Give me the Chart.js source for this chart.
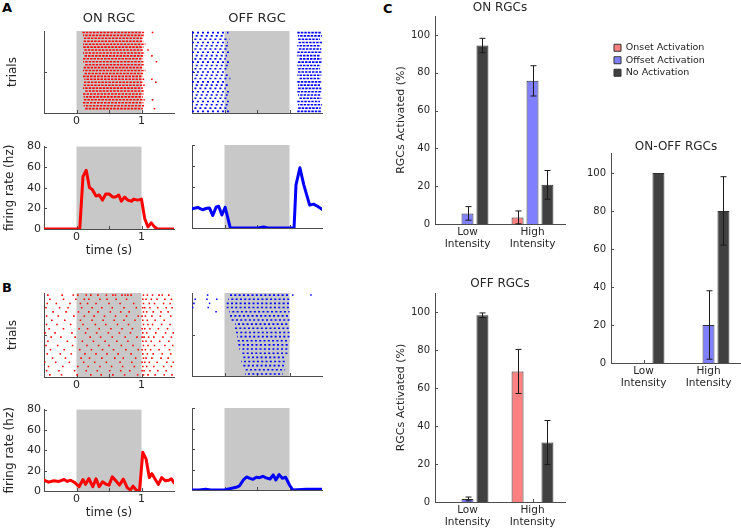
<!DOCTYPE html>
<html>
<head>
<meta charset="utf-8">
<script src="https://cdn.jsdelivr.net/npm/chart.js@4.4.1/dist/chart.umd.min.js"></script>
<style>
  body { margin: 0; width: 741px; height: 531px; position: relative; overflow: hidden; background: #fff; font-family: 'DejaVu Sans', sans-serif; }
  canvas { position: absolute; }
  .panel { position: absolute; font-weight: bold; font-size: 13px; color: #000; }
</style>
</head>
<body>
<div class="panel" style="left:2px;top:0px">A</div>
<div class="panel" style="left:2px;top:280px">B</div>
<div class="panel" style="left:383px;top:1px">C</div>

<canvas id="aOnRaster"></canvas>
<canvas id="aOffRaster"></canvas>
<canvas id="aOnRate"></canvas>
<canvas id="aOffRate"></canvas>
<canvas id="bOnRaster"></canvas>
<canvas id="bOffRaster"></canvas>
<canvas id="bOnRate"></canvas>
<canvas id="bOffRate"></canvas>
<canvas id="onBars"></canvas>
<canvas id="offBars"></canvas>
<canvas id="onoffBars"></canvas>

<script>
// ---- data ----
const timeTicks = [0, 0.5, 1];
const stimOn = 0, stimOff = 1;

// A, ON RGC raster: each trial fires densely from start to end
const aOnStart = [0.09, 0.1, 0.1, 0.11, 0.1, 0.09, 0.12, 0.1, 0.11, 0.1, 0.1, 0.12, 0.11, 0.1, 0.11, 0.1, 0.12, 0.1, 0.11, 0.1, 0.12, 0.1, 0.11, 0.1, 0.1, 0.11, 0.12];
const aOnEnd = [1.04, 1.05, 1.02, 1.03, 1.06, 1.03, 1.02, 1.05, 1.04, 1.02, 1.03, 1.04, 1.02, 1.06, 1.03, 1.02, 1.04, 1.03, 1.05, 1.02, 1.04, 1.03, 1.02, 1.05, 1.03, 1.04, 1.02];
const aOnExtraT = [1.17, 1.1, 1.16, 1.23, 1.16, 1.22, 1.17, 1.2];
const aOnExtraRow = [1, 7, 9, 11, 17, 18, 24, 27];

// A, OFF RGC raster: firing before the flash and after it ends
const aOffPreEnd = [0.06, 0.02, 0.08, 0.05, 0.09, 0.03, 0.07, 0.04, 0.02, 0.08, 0.06, 0.05, 0.03, 0.07, 0.09, 0.04, 0.06, 0.02, 0.08, 0.05, 0.03, 0.07, 0.06, 0.04, 0.08];
const aOffPostStart = [1.12, 1.13, 1.12, 1.14, 1.12, 1.13, 1.12, 1.12, 1.14, 1.13, 1.12, 1.12, 1.13, 1.12, 1.14, 1.12, 1.13, 1.12, 1.12, 1.13, 1.14, 1.12, 1.13, 1.12, 1.12];
const aOffPostEnd = [1.49, 1.5, 1.47, 1.5, 1.48, 1.49, 1.5, 1.47, 1.49, 1.5, 1.48, 1.47, 1.5, 1.49, 1.48, 1.5, 1.47, 1.49, 1.5, 1.48, 1.49, 1.47, 1.5, 1.48, 1.49];

// A, firing rates
const aOnT = [-0.5, 0.05, 0.1, 0.15, 0.2, 0.24, 0.3, 0.35, 0.4, 0.45, 0.5, 0.56, 0.6, 0.65, 0.69, 0.74, 0.79, 0.85, 0.88, 0.94, 1.0, 1.05, 1.1, 1.15, 1.2, 1.25, 1.5];
const aOnR = [0, 0, 51, 57, 40, 38.6, 32, 33, 28, 34, 34, 31, 31, 33, 27, 31, 28, 27, 29, 28, 29, 10, 2, 6, 2, 0, 0];
const aOffT = [-0.5, -0.41, -0.34, -0.27, -0.23, -0.18, -0.13, -0.09, -0.04, 0.01, 0.09, 0.52, 0.6, 0.67, 1.07, 1.1, 1.16, 1.22, 1.31, 1.37, 1.43, 1.5];
const aOffR = [18.6, 19.8, 17.6, 19, 19.2, 12, 20, 21, 12.5, 20, 0, 0, 1, 0, 0, 41.6, 58, 41.6, 22, 23, 21, 18];

// B, ON RGC raster: spike times per trial
const bOnSpikes = [
  [-0.44, -0.22, -0.05, 0.02, 0.15, 0.22, 0.33, 0.46, 0.56, 0.6, 0.7, 0.75, 0.79, 0.84, 1.03, 1.09, 1.17, 1.27, 1.32, 1.42],
  [-0.41, -0.2, -0.01, 0.12, 0.19, 0.36, 0.47, 0.61, 0.77, 1.02, 1.07, 1.15, 1.24, 1.36, 1.46],
  [-0.45, -0.31, -0.1, 0.06, 0.17, 0.3, 0.5, 0.67, 0.88, 1.03, 1.12, 1.2, 1.34, 1.44],
  [-0.47, -0.26, -0.13, 0.08, 0.24, 0.39, 0.55, 0.73, 0.92, 1.02, 1.05, 1.13, 1.25, 1.38, 1.47],
  [-0.36, -0.16, 0.03, 0.19, 0.33, 0.52, 0.68, 0.81, 1.03, 1.08, 1.18, 1.3, 1.41],
  [-0.46, -0.28, -0.04, 0.12, 0.27, 0.43, 0.6, 0.77, 0.95, 1.01, 1.06, 1.16, 1.29, 1.45],
  [-0.38, -0.18, 0.06, 0.24, 0.41, 0.58, 0.73, 0.9, 1.02, 1.09, 1.21, 1.35],
  [-0.46, -0.3, -0.09, 0.1, 0.29, 0.45, 0.63, 0.8, 1.03, 1.1, 1.17, 1.31, 1.44],
  [-0.42, -0.2, 0.04, 0.17, 0.35, 0.53, 0.7, 0.86, 1.01, 1.05, 1.13, 1.26, 1.4],
  [-0.48, -0.33, -0.07, 0.14, 0.31, 0.49, 0.66, 0.83, 1.02, 1.08, 1.22, 1.37, 1.49],
  [-0.39, -0.24, -0.02, 0.21, 0.37, 0.55, 0.75, 0.93, 1.01, 1.04, 1.11, 1.19, 1.33, 1.46],
  [-0.44, -0.14, 0.09, 0.26, 0.44, 0.62, 0.79, 1.02, 1.07, 1.15, 1.28, 1.42],
  [-0.47, -0.29, -0.06, 0.16, 0.34, 0.5, 0.69, 0.87, 1.03, 1.1, 1.2, 1.36, 1.48],
  [-0.4, -0.19, 0.05, 0.23, 0.4, 0.57, 0.76, 0.95, 1.01, 1.06, 1.14, 1.27, 1.43],
  [-0.45, -0.25, -0.08, 0.13, 0.3, 0.47, 0.64, 0.84, 1.02, 1.09, 1.18, 1.32, 1.45],
  [-0.37, -0.17, 0.07, 0.2, 0.39, 0.59, 0.72, 0.91, 1.03, 1.07, 1.16, 1.3, 1.41],
  [-0.49, -0.32, -0.11, 0.11, 0.28, 0.46, 0.67, 0.85, 1.01, 1.05, 1.12, 1.24, 1.39, 1.49],
  [-0.43, -0.21, 0.02, 0.18, 0.36, 0.54, 0.71, 0.89, 1.02, 1.08, 1.19, 1.34, 1.46],
  [-0.46, -0.27, -0.03, 0.15, 0.32, 0.51, 0.68, 0.82, 1.01, 1.04, 1.13, 1.25, 1.38],
  [-0.41, -0.23, 0.01, 0.22, 0.38, 0.56, 0.74, 0.94, 1.03, 1.1, 1.21, 1.35, 1.47]
];

// B, OFF RGC raster: regular firing during the flash, later onset in later trials
const bOffStart = [0.085, 0.059, 0.008, 0.033, 0.074, 0.059, 0.11, 0.161, 0.136, 0.177, 0.197, 0.177, 0.213, 0.228, 0.249, 0.29, 0.254, 0.264, 0.326, 0.315];
const bOffEnd = [1.0, 1.0, 1.0, 1.0, 1.0, 1.0, 1.0, 1.0, 1.0, 1.0, 1.0, 1.0, 1.0, 0.99, 0.98, 0.95, 0.93, 0.95, 0.93, 0.9];
const bOffExtraT = [-0.26, 1.05, 1.33, -0.45, -0.27, -0.12, -0.47, -0.23, -0.49, -0.25, -0.13];
const bOffExtraRow = [1, 1, 1, 2, 2, 2, 3, 3, 4, 4, 5];

// B, firing rates
const bOnT = [-0.5, -0.43, -0.35, -0.27, -0.19, -0.14, -0.09, -0.03, 0.04, 0.1, 0.14, 0.19, 0.25, 0.3, 0.35, 0.4, 0.45, 0.5, 0.55, 0.61, 0.66, 0.72, 0.78, 0.83, 0.87, 0.93, 0.97, 1.02, 1.07, 1.12, 1.16, 1.22, 1.26, 1.31, 1.37, 1.42, 1.46, 1.5];
const bOnR = [10.6, 8.7, 10, 9.4, 11.3, 9.4, 10.6, 8.4, 4.2, 11.3, 6.5, 12.3, 4.2, 12, 4.2, 9, 6.8, 5.8, 13.9, 9.7, 5.8, 11.6, 3.2, 1, 4.8, 0, 0.5, 38, 31.6, 13.2, 17, 10.6, 6.5, 13.2, 10, 10.6, 12, 8];
const bOffT = [-0.5, -0.39, -0.29, -0.21, -0.14, -0.08, 0, 0.08, 0.18, 0.23, 0.29, 0.34, 0.39, 0.44, 0.49, 0.54, 0.59, 0.64, 0.7, 0.75, 0.79, 0.84, 0.89, 0.94, 1.0, 1.05, 1.26, 1.5];
const bOffR = [0, 0, 0.7, 0, 0, 0, 0, 1.3, 2.6, 4, 9.8, 12.7, 11.4, 10.4, 12.4, 12, 13.4, 11.8, 10.8, 14.7, 9.8, 15, 11.4, 12.4, 4.9, 0, 0.7, 0.7];

// C, percent of RGCs activated (mean and error)
const intensityLabels = [['Low', 'Intensity'], ['High', 'Intensity']];
const onOnset = [0, 3.5], onOnsetErr = [0, 3.4];
const onOffset = [5.6, 75.7], onOffsetErr = [3.6, 8];
const onNone = [94.4, 20.7], onNoneErr = [3.8, 7.6];
const offOnset = [0, 68.7], offOnsetErr = [0, 11.6];
const offOffset = [1.6, 0], offOffsetErr = [1.0, 0];
const offNone = [98.3, 31.3], offNoneErr = [1.2, 11.6];
const onoffOnset = [0, 0], onoffOnsetErr = [0, 0];
const onoffOffset = [0, 20], onoffOffsetErr = [0, 18];
const onoffNone = [100, 80], onoffNoneErr = [0, 18];

// ---- style ----
const TXT = '#262626', AXIS = '#4d4d4d', SHADE = '#c8c8c8';
const RED = '#ff0000', BLUE = '#0000ff';
const ONSET = '#ff8080', OFFSET = '#8080ff', NONE = '#404040', EDGE = '#303030';
Chart.defaults.font.family = "'DejaVu Sans', sans-serif";
Chart.defaults.color = TXT;

// gray stimulus window behind everything
const shade = {
  id: 'shade',
  beforeDraw(chart) {
    const { ctx, chartArea: a, scales: { x } } = chart;
    const x0 = x.getPixelForValue(stimOn), x1 = x.getPixelForValue(stimOff);
    ctx.save();
    ctx.fillStyle = SHADE;
    ctx.fillRect(x0, a.top, x1 - x0, a.bottom - a.top);
    ctx.restore();
  }
};

// short tick marks pointing into the axes
const inwardTicks = {
  id: 'inwardTicks',
  beforeDatasetsDraw(chart) {
    const { ctx, chartArea: a, scales: { x, y } } = chart;
    ctx.save();
    ctx.strokeStyle = AXIS;
    ctx.lineWidth = 1;
    ctx.beginPath();
    x.ticks.forEach((t, i) => {
      const p = Math.round(x.getPixelForTick(i)) + 0.5;
      ctx.moveTo(p, a.bottom); ctx.lineTo(p, a.bottom - 3);
    });
    y.ticks.forEach((t, i) => {
      const p = Math.round(y.getPixelForTick(i)) + 0.5;
      ctx.moveTo(a.left, p); ctx.lineTo(a.left + 3, p);
    });
    ctx.stroke();
    ctx.restore();
  }
};

const errorBars = {
  id: 'errorBars',
  afterDatasetsDraw(chart) {
    const { ctx, scales: { y } } = chart;
    ctx.save();
    ctx.strokeStyle = '#1a1a1a';
    ctx.lineWidth = 1;
    chart.data.datasets.forEach((ds, i) => {
      const meta = chart.getDatasetMeta(i);
      ds.err.forEach((e, j) => {
        if (!e) return;
        const v = ds.data[j];
        const x = Math.round(meta.data[j].x) + 0.5;
        const yHi = y.getPixelForValue(v + e), yLo = y.getPixelForValue(Math.max(0, v - e));
        ctx.beginPath();
        ctx.moveTo(x, yHi); ctx.lineTo(x, yLo);
        ctx.moveTo(x - 3, yHi); ctx.lineTo(x + 3, yHi);
        ctx.moveTo(x - 3, yLo); ctx.lineTo(x + 3, yLo);
        ctx.stroke();
      });
    });
    ctx.restore();
  }
};

function setup(id, b) {
  const c = document.getElementById(id);
  c.width = b.R - b.L + b.yw + b.rp;
  c.height = b.B - b.T + b.tp + b.xh;
  c.style.left = (b.L - b.yw) + 'px';
  c.style.top = (b.T - b.tp) + 'px';
  return c;
}

function spikePoints(times, rows) {
  return times.map((t, i) => ({ x: t, y: rows[i] }));
}
function spikeRows(rows) {
  const pts = [];
  rows.forEach((r, i) => r.forEach(t => pts.push({ x: t, y: i + 1 })));
  return pts;
}
function curve(ts, rs) {
  return ts.map((t, i) => ({ x: t, y: rs[i] }));
}

// dense spike trains drawn as dotted row segments; rows split in 3 sets so dots do not line up
function trainSets(starts, ends, color, dash) {
  return [0, 1, 2].map(k => {
    const pts = [];
    starts.forEach((s, i) => {
      if (i % 3 === k) pts.push({ x: s, y: i + 1 }, { x: ends[i], y: i + 1 }, { x: ends[i], y: null });
    });
    return { data: pts, showLine: true, spanGaps: false, borderColor: color, borderWidth: 1.6, borderDash: dash, borderDashOffset: k * 1.3, pointRadius: 0 };
  });
}
function dotSet(data, color) {
  return { data, showLine: false, pointStyle: 'rect', pointRadius: 1.1, borderWidth: 0, backgroundColor: color };
}
function rateSet(data, color) {
  return { data, showLine: true, borderColor: color, borderWidth: 3, pointRadius: 0, borderJoinStyle: 'round', borderCapStyle: 'round' };
}

// time axis charts (rasters and firing rates)
function timeChart(id, b, o) {
  const canvas = setup(id, b);
  const tH = o.title ? 13 * 1.2 + 5 : 0;
  const raster = o.rows != null;
  return new Chart(canvas, {
    type: 'scatter',
    data: { datasets: o.datasets },
    options: {
      responsive: false, animation: false, events: [],
      layout: { padding: { top: b.tp - tH, right: b.rp, left: 0, bottom: 0 } },
      plugins: {
        legend: { display: false }, tooltip: { enabled: false },
        title: { display: !!o.title, text: o.title, fullSize: false, color: TXT, font: { size: 13, weight: 'normal' }, padding: { top: 0, bottom: 5 } }
      },
      scales: {
        x: {
          type: 'linear', min: -0.5, max: 1.5,
          afterBuildTicks: s => { s.ticks = timeTicks.map(v => ({ value: v })); },
          afterFit: s => { s.height = b.xh; },
          grid: { display: false, drawTicks: false },
          border: { color: AXIS },
          ticks: { display: o.labels, padding: 2, color: TXT, font: { size: 11 }, callback: v => (v === 0 || v === 1) ? String(v) : '' },
          title: { display: !!o.xTitle, text: o.xTitle, color: TXT, font: { size: 12 }, padding: { top: 0, bottom: 2 } }
        },
        y: raster ? {
          type: 'linear', min: 0.5, max: o.rows + 0.5, reverse: true,
          afterBuildTicks: s => { s.ticks = [{ value: (o.rows + 1) / 2 }]; },
          afterFit: s => { s.width = b.yw; },
          grid: { display: false, drawTicks: false },
          border: { color: AXIS },
          ticks: { display: false },
          title: { display: o.labels, text: 'trials', color: TXT, font: { size: 12 }, padding: { top: 6, bottom: 0 } }
        } : {
          type: 'linear', min: 0, max: 80,
          afterFit: s => { s.width = b.yw; },
          grid: { display: false, drawTicks: false },
          border: { color: AXIS },
          ticks: { display: o.labels, stepSize: 20, padding: 3, color: TXT, font: { size: 11 } },
          title: { display: o.labels, text: 'firing rate (hz)', color: TXT, font: { size: 12 }, padding: { top: 3, bottom: 0 } }
        }
      }
    },
    plugins: [shade, inwardTicks]
  });
}

// grouped bar charts with error bars
function barChart(id, b, o) {
  const canvas = setup(id, b);
  const tH = 12 * 1.2 + o.titlePad[0] + o.titlePad[1];
  return new Chart(canvas, {
    type: 'bar',
    data: {
      labels: intensityLabels,
      datasets: [
        { label: 'Onset Activation', data: o.onset, err: o.onsetErr, backgroundColor: ONSET, borderColor: EDGE, borderWidth: 1 },
        { label: 'Offset Activation', data: o.offset, err: o.offsetErr, backgroundColor: OFFSET, borderColor: EDGE, borderWidth: 1 },
        { label: 'No Activation', data: o.none, err: o.noneErr, backgroundColor: NONE, borderColor: EDGE, borderWidth: 1 }
      ]
    },
    options: {
      responsive: false, animation: false, events: [],
      datasets: { bar: { categoryPercentage: 0.69, barPercentage: 0.8 } },
      layout: { padding: { top: o.legend ? 0 : b.tp - tH, right: b.rp, left: 0, bottom: 0 } },
      plugins: {
        tooltip: { enabled: false },
        legend: {
          display: !!o.legend, position: 'top', align: 'start', fullSize: false, weight: 1000,
          labels: { boxWidth: 7, boxHeight: 7, padding: 3, color: '#222', font: { size: 9.5 } }
        },
        title: { display: true, text: o.title, fullSize: false, weight: 500, color: TXT, font: { size: 12, weight: 'normal' }, padding: { top: o.titlePad[0], bottom: o.titlePad[1] } }
      },
      scales: {
        x: {
          afterFit: s => { s.height = b.xh; },
          grid: { display: false, drawTicks: false },
          border: { color: AXIS },
          ticks: { padding: 2, maxRotation: 0, autoSkip: false, color: TXT, font: { size: 10.5, lineHeight: 1.15 } }
        },
        y: {
          min: 0, max: 110,
          afterFit: s => { s.width = b.yw; },
          grid: { display: false, drawTicks: false },
          border: { color: AXIS },
          ticks: { stepSize: 20, includeBounds: false, padding: 5, color: TXT, font: { size: 10 } },
          title: { display: !!o.yTitle, text: o.yTitle, color: TXT, font: { size: 11 }, padding: { top: 0, bottom: 0 } }
        }
      }
    },
    plugins: [inwardTicks, errorBars]
  });
}

// ---- panel A ----
timeChart('aOnRaster', { L: 44, T: 31, R: 174, B: 113, yw: 44, tp: 31, xh: 20, rp: 4 }, {
  title: 'ON RGC', labels: true, rows: 28,
  datasets: [...trainSets(aOnStart, aOnEnd, RED, [2.5, 1]), dotSet(spikePoints(aOnExtraT, aOnExtraRow), RED)]
});
timeChart('aOffRaster', { L: 192, T: 31, R: 322, B: 113, yw: 8, tp: 31, xh: 12, rp: 4 }, {
  title: 'OFF RGC', labels: false, rows: 25,
  datasets: [
    ...trainSets(aOffPreEnd.map(() => -0.5), aOffPreEnd, BLUE, [2, 3]),
    ...trainSets(aOffPostStart, aOffPostEnd, BLUE, [2.5, 1])
  ]
});
timeChart('aOnRate', { L: 44, T: 145, R: 174, B: 229, yw: 44, tp: 8, xh: 31, rp: 4 }, {
  labels: true, xTitle: 'time (s)', datasets: [rateSet(curve(aOnT, aOnR), RED)]
});
timeChart('aOffRate', { L: 192, T: 145, R: 322, B: 228, yw: 8, tp: 8, xh: 12, rp: 4 }, {
  labels: false, datasets: [rateSet(curve(aOffT, aOffR), BLUE)]
});

// ---- panel B ----
timeChart('bOnRaster', { L: 44, T: 293, R: 174, B: 377, yw: 44, tp: 8, xh: 20, rp: 4 }, {
  labels: true, rows: 20, datasets: [dotSet(spikeRows(bOnSpikes), RED)]
});
timeChart('bOffRaster', { L: 192, T: 293, R: 322, B: 376, yw: 8, tp: 8, xh: 12, rp: 4 }, {
  labels: false, rows: 20,
  datasets: [...trainSets(bOffStart, bOffEnd, BLUE, [2, 2.3]), dotSet(spikePoints(bOffExtraT, bOffExtraRow), BLUE)]
});
timeChart('bOnRate', { L: 44, T: 408, R: 174, B: 491, yw: 44, tp: 8, xh: 31, rp: 4 }, {
  labels: true, xTitle: 'time (s)', datasets: [rateSet(curve(bOnT, bOnR), RED)]
});
timeChart('bOffRate', { L: 192, T: 408, R: 322, B: 490, yw: 8, tp: 8, xh: 12, rp: 4 }, {
  labels: false, datasets: [rateSet(curve(bOffT, bOffR), BLUE)]
});

// ---- panel C ----
barChart('onBars', { L: 435, T: 16, R: 565, B: 224, yw: 40, tp: 16, xh: 30, rp: 5 }, {
  title: 'ON RGCs', titlePad: [0, 0.5], yTitle: 'RGCs Activated (%)',
  onset: onOnset, onsetErr: onOnsetErr, offset: onOffset, offsetErr: onOffsetErr, none: onNone, noneErr: onNoneErr
});
barChart('offBars', { L: 435, T: 293, R: 565, B: 502, yw: 40, tp: 23, xh: 30, rp: 5 }, {
  title: 'OFF RGCs', titlePad: [0, 1.8], yTitle: 'RGCs Activated (%)',
  onset: offOnset, onsetErr: offOnsetErr, offset: offOffset, offsetErr: offOffsetErr, none: offNone, noneErr: offNoneErr
});
barChart('onoffBars', { L: 611, T: 154, R: 741, B: 363, yw: 30, tp: 114, xh: 30, rp: 0 }, {
  title: 'ON-OFF RGCs', titlePad: [52, 0], legend: true,
  onset: onoffOnset, onsetErr: onoffOnsetErr, offset: onoffOffset, offsetErr: onoffOffsetErr, none: onoffNone, noneErr: onoffNoneErr
});
</script>
</body>
</html>
